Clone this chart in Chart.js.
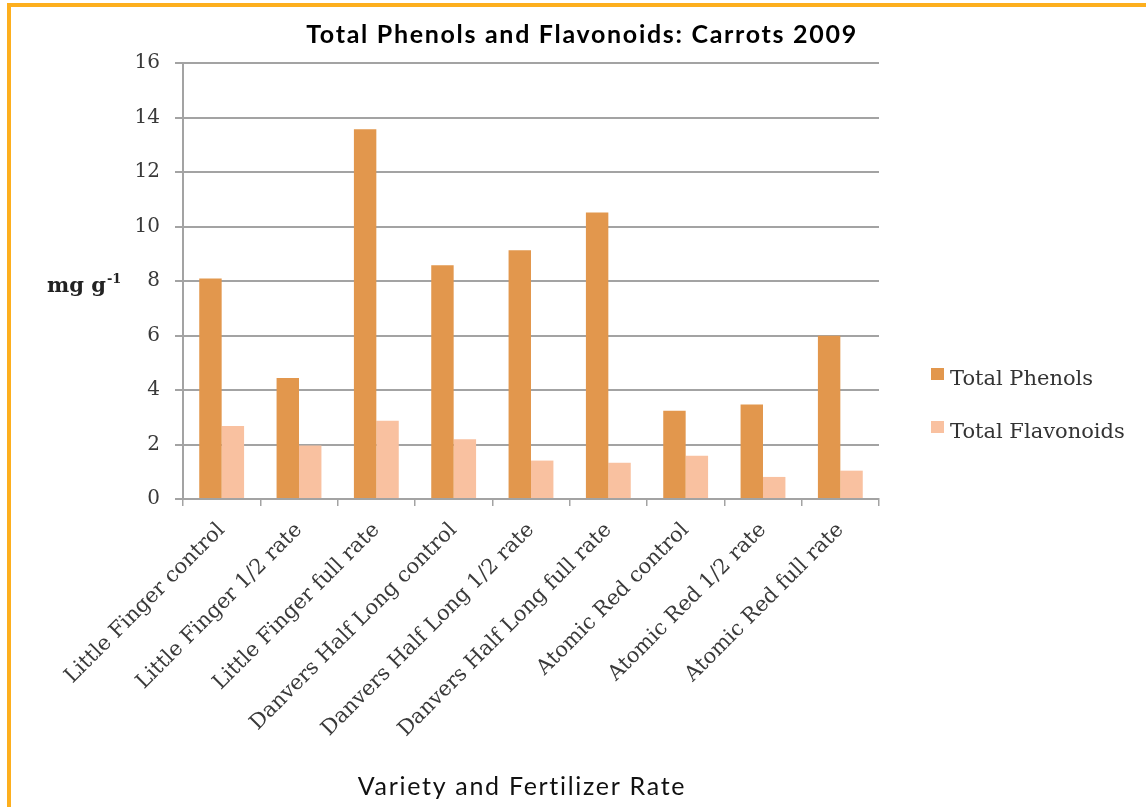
<!DOCTYPE html>
<html>
<head>
<meta charset="utf-8">
<script src="https://cdn.jsdelivr.net/npm/chart.js@4/dist/chart.umd.min.js"></script>
<style>
  html, body { margin: 0; padding: 0; background: #fff; }
  #wrap { position: relative; width: 1146px; height: 807px; }
  #frame {
    position: absolute; left: 7px; top: 3px; width: 1139px; height: 804px;
    border-top: 4px solid #FDAF1E; border-left: 4px solid #FDAF1E;
    box-sizing: border-box; pointer-events: none;
  }
</style>
</head>
<body>
<div id="wrap">
  <canvas id="chart" width="1146" height="807"></canvas>
  <div id="frame"></div>
</div>
<script>
const categories = [
  'Little Finger control', 'Little Finger 1/2 rate', 'Little Finger full rate',
  'Danvers Half Long control', 'Danvers Half Long 1/2 rate', 'Danvers Half Long full rate',
  'Atomic Red control', 'Atomic Red 1/2 rate', 'Atomic Red full rate'
];
const totalPhenols = [8.09, 4.44, 13.57, 8.58, 9.13, 10.51, 3.24, 3.47, 5.99];
const totalFlavonoids = [2.68, 1.96, 2.87, 2.19, 1.41, 1.33, 1.59, 0.81, 1.04];
const yTicks = [0, 2, 4, 6, 8, 10, 12, 14, 16];

const chartTitle = 'Total Phenols and Flavonoids: Carrots 2009';
const xTitle = 'Variety and Fertilizer Rate';

const serif = '"DejaVu Serif", serif';
const gridColor = '#a3a3a3';

// titles and legend drawn by hand (horizontal y title, legend off to the side)
const extras = {
  id: 'extras',
  afterDraw(chart) {
    const ctx = chart.ctx;
    ctx.save();
    ctx.textBaseline = 'alphabetic';

    // main title
    ctx.fillStyle = '#000';
    ctx.textAlign = 'center';
    ctx.font = 'bold 25px Lato';
    ctx.letterSpacing = '1.7px';
    ctx.fillText(chartTitle, 582, 43);

    // x title
    ctx.font = '25px Lato';
    ctx.fillStyle = '#111';
    ctx.letterSpacing = '1.7px';
    ctx.fillText(xTitle, 522, 795);
    ctx.letterSpacing = '0px';

    // y title "mg g-1"
    ctx.fillStyle = '#222';
    ctx.textAlign = 'left';
    ctx.font = 'bold 21px ' + serif;
    ctx.fillText('mg g', 47, 292);
    const w = ctx.measureText('mg g').width;
    ctx.font = 'bold 13px ' + serif;
    ctx.fillText('-1', 47 + w + 1, 283);

    // legend
    const rows = [385, 438];
    chart.data.datasets.forEach((ds, i) => {
      ctx.fillStyle = ds.backgroundColor;
      ctx.fillRect(931, rows[i] - 17, 13, 12);
      ctx.fillStyle = '#333';
      ctx.font = '21px ' + serif;
      ctx.fillText(ds.label, 950, rows[i]);
    });
    ctx.restore();
  }
};

new Chart(document.getElementById('chart'), {
  type: 'bar',
  data: {
    labels: categories,
    datasets: [
      { label: 'Total Phenols', data: totalPhenols, backgroundColor: '#E2974D' },
      { label: 'Total Flavonoids', data: totalFlavonoids, backgroundColor: '#F9C1A0' }
    ]
  },
  options: {
    responsive: false,
    animation: false,
    layout: { padding: { left: 0, right: 267, top: 63, bottom: 0 } },
    datasets: { bar: { categoryPercentage: 0.58, barPercentage: 1.0 } },
    plugins: {
      legend: { display: false },
      tooltip: { enabled: false },
      title: { display: false }
    },
    scales: {
      x: {
        grid: { display: true, drawOnChartArea: false, drawTicks: true, tickLength: 7, color: gridColor, lineWidth: 1.5 },
        border: { display: true, color: gridColor, width: 2 },
        ticks: {
          color: '#3a3a3a', font: { family: serif, size: 21 },
          minRotation: 45, maxRotation: 45, autoSkip: false, padding: 12
        },
        afterFit(scale) { scale.height = 308; }
      },
      y: {
        min: 0, max: 16,
        grid: { color: gridColor, lineWidth: 2, tickLength: 8 },
        border: { display: true, color: gridColor, width: 2 },
        afterBuildTicks(scale) { scale.ticks = yTicks.map(v => ({ value: v })); },
        ticks: { color: '#3a3a3a', font: { family: serif, size: 20 }, padding: 15 },
        afterFit(scale) { scale.width = 183; }
      }
    }
  },
  plugins: [extras]
});
</script>
</body>
</html>
